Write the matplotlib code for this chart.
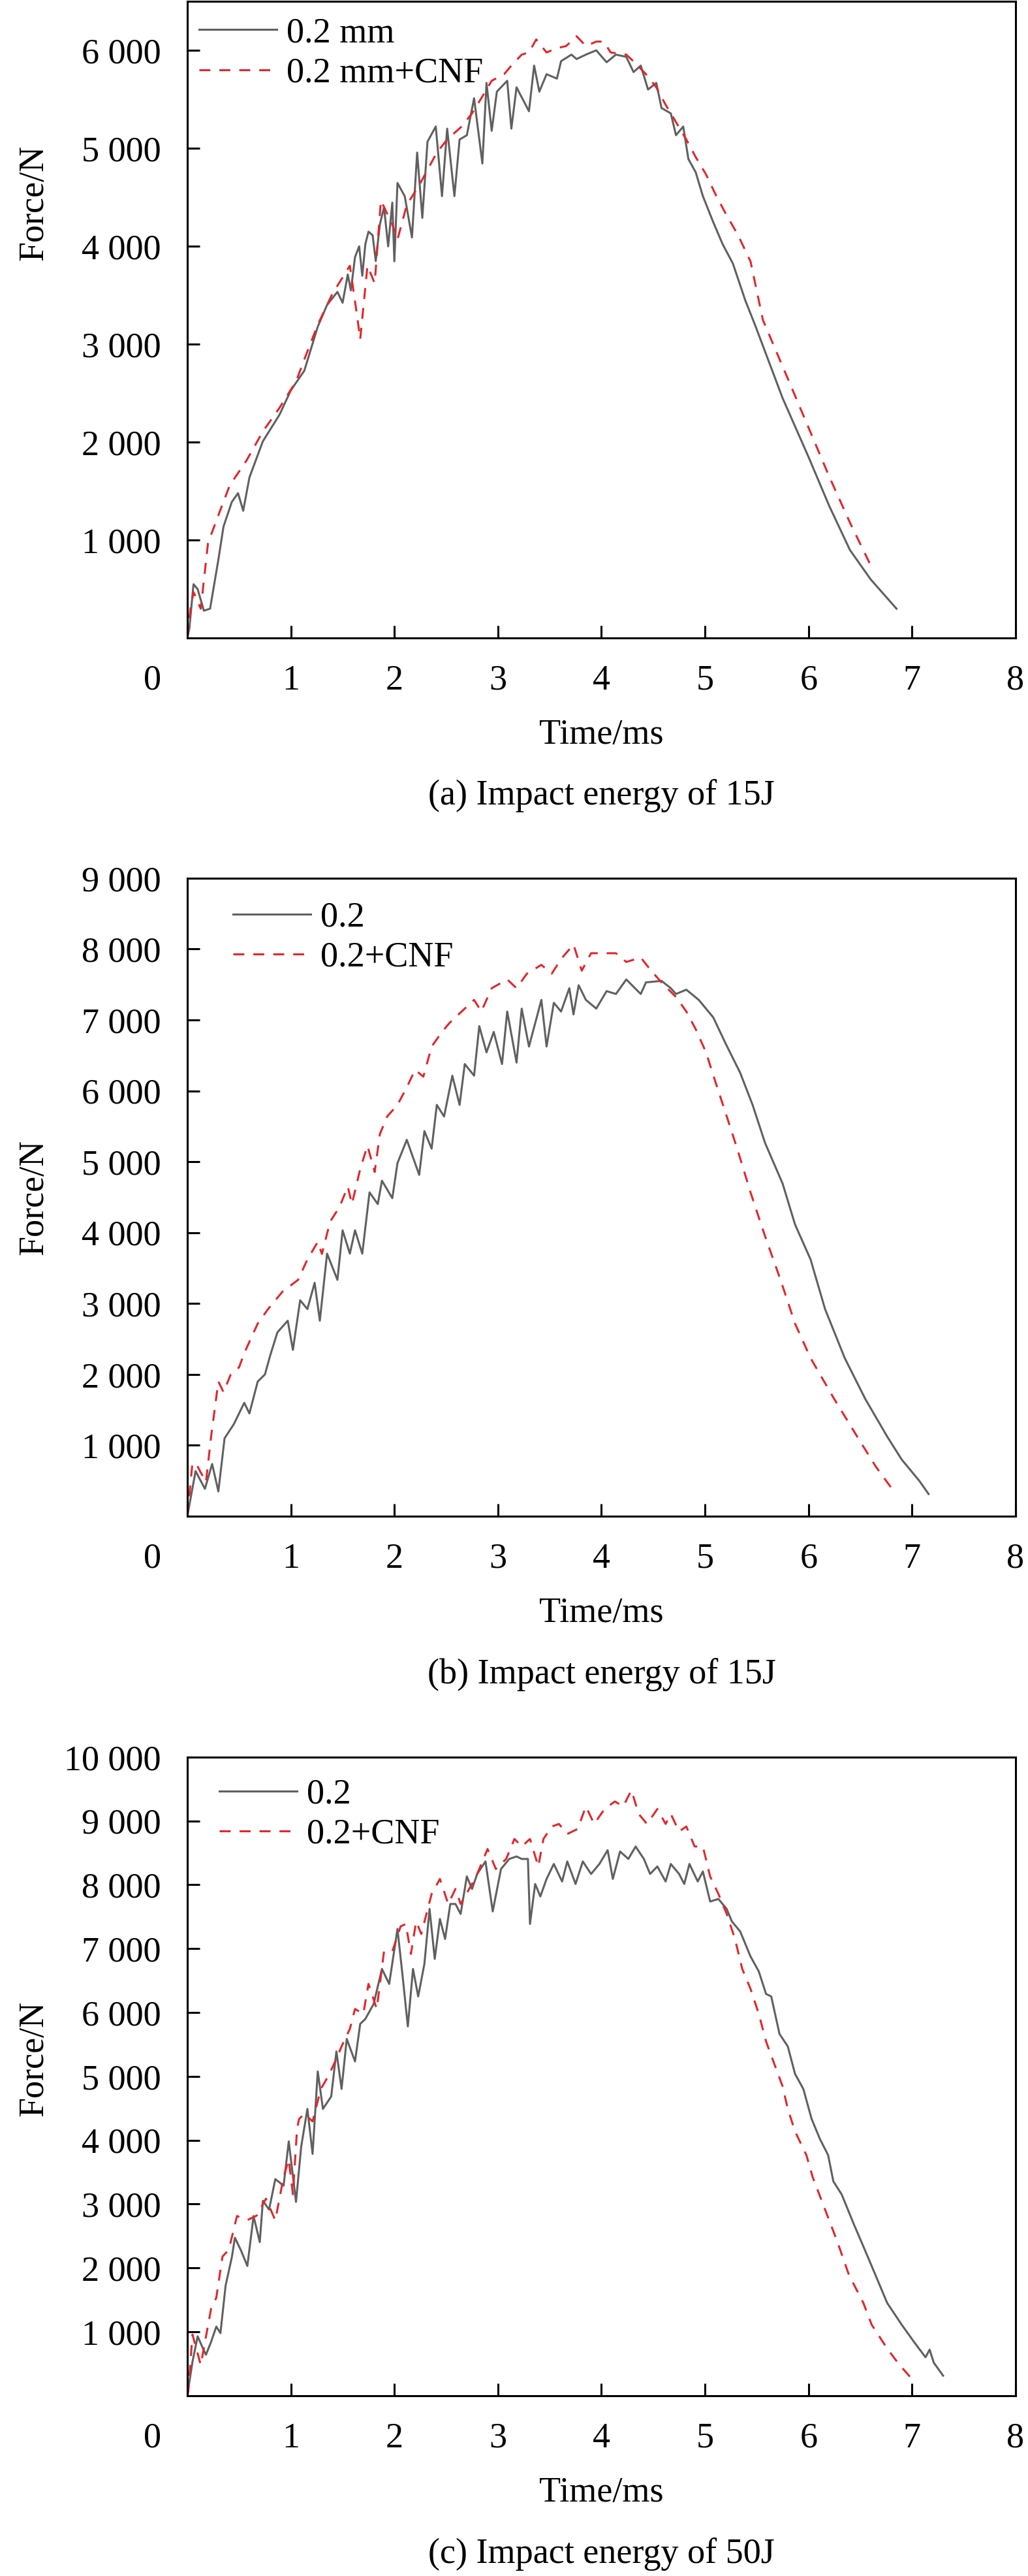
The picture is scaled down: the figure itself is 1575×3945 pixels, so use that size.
import numpy as np
import matplotlib
matplotlib.use("Agg")
from matplotlib import pyplot as plt
from matplotlib.ticker import FuncFormatter, FixedLocator
from matplotlib.transforms import ScaledTranslation

plt.rcParams['font.family'] = ['Liberation Serif', 'DejaVu Serif']
plt.rcParams['font.size'] = 39

# ---- panel (a): 15 J, 0.2 mm ----
t_a_plain = [0.0, 0.02, 0.06, 0.1, 0.16, 0.22, 0.3, 0.35, 0.43, 0.49, 0.54, 0.6, 0.73, 0.89, 1.0, 1.13,
             1.26, 1.35, 1.45, 1.5, 1.55, 1.58, 1.62, 1.66, 1.69, 1.72, 1.75, 1.79, 1.82, 1.86, 1.9, 1.94,
             1.98, 2.0, 2.03, 2.1, 2.17, 2.22, 2.27,
             2.32, 2.4, 2.46, 2.51, 2.58, 2.63, 2.7, 2.77, 2.85, 2.89, 2.94, 2.99, 3.09, 3.13, 3.18, 3.3,
             3.35, 3.4, 3.47, 3.57, 3.61, 3.71, 3.76, 3.85, 3.95, 4.05, 4.14, 4.24, 4.31, 4.38, 4.45,
             4.53, 4.58, 4.67, 4.72, 4.79, 4.84, 4.91, 4.98, 5.08, 5.17, 5.27, 5.39, 5.49, 5.75, 6.0,
             6.2, 6.4, 6.6, 6.75, 6.85]
f_a_plain = [0, 100, 550, 500, 280, 300, 800, 1140, 1390, 1480, 1300, 1640, 2010, 2280, 2530, 2730,
             3180, 3402, 3535, 3424, 3713, 3550, 3891, 4000, 3700, 4024, 4150, 4113, 3850, 4224, 4400, 4000,
             4447, 3847, 4647, 4513, 4091, 4958, 4291,
             5069, 5224, 4513, 5202, 4513, 5091, 5135, 5513, 4846, 5669, 5180, 5580, 5691, 5202, 5624, 5380,
             5846, 5580, 5758, 5713, 5891, 5958, 5913, 5958, 6002, 5880, 5958, 5935, 5780, 5846, 5602,
             5669, 5413, 5358, 5135, 5224, 4891, 4758, 4513, 4247, 4024, 3824, 3447, 3180, 2450, 1850,
             1350, 900, 600, 420, 300]
t_a_cnf = [0.0, 0.03, 0.06, 0.13, 0.2, 0.32, 0.41, 0.57, 0.73, 0.89, 1.05, 1.15, 1.26, 1.4, 1.57, 1.64,
           1.67, 1.74, 1.81, 1.87, 1.98, 2.03, 2.12, 2.24, 2.41, 2.51, 2.65, 2.75, 2.84, 2.94, 3.06, 3.13,
           3.23, 3.3, 3.37, 3.47, 3.57, 3.66, 3.76, 3.85, 3.95, 4.02, 4.09, 4.24, 4.33, 4.43, 4.53, 4.62,
           4.72, 4.82, 4.91, 5.01, 5.1, 5.2, 5.32, 5.44, 5.56, 5.8, 6.0, 6.2, 6.4, 6.62]
f_a_cnf = [0, 300, 470, 300, 970, 1310, 1560, 1810, 2110, 2350, 2620, 2900, 3200, 3513, 3802, 3291,
           3050, 3802, 3624, 4469, 4224, 4069, 4424, 4624, 4958, 5091, 5224, 5358, 5513, 5691, 5758, 5846,
           5958, 5980, 6113, 5980, 6024, 6046, 6146, 6046, 6091, 6091, 5980, 5958, 5869, 5758, 5624, 5446,
           5269, 5091, 4913, 4735, 4535, 4335, 4113, 3846, 3247, 2650, 2150, 1650, 1180, 700]

# ---- panel (b): 15 J ----
t_b_plain = [0.0, 0.08, 0.17, 0.24, 0.3, 0.36, 0.45, 0.55, 0.6, 0.68, 0.75, 0.8, 0.87, 0.97, 1.02, 1.09,
             1.16, 1.23, 1.28, 1.35, 1.45, 1.5, 1.57, 1.62, 1.69, 1.76, 1.84, 1.88, 1.98, 2.03, 2.12, 2.24,
             2.29, 2.36, 2.41, 2.48, 2.56, 2.63, 2.68, 2.77, 2.82, 2.89, 2.96, 3.04, 3.09, 3.18, 3.23, 3.3,
             3.42, 3.47, 3.54, 3.61, 3.69, 3.73, 3.78, 3.85, 3.95, 4.05, 4.14, 4.24, 4.38, 4.43, 4.58,
             4.67, 4.72, 4.82, 4.94, 5.08, 5.2, 5.34, 5.46, 5.58, 5.75, 5.87, 6.02, 6.16, 6.35, 6.55,
             6.76, 6.9, 7.07, 7.16]
f_b_plain = [0, 636, 387, 737, 350, 1100, 1300, 1600, 1450, 1900, 2000, 2264, 2593, 2758, 2346, 3046,
             2922, 3293, 2758, 3704, 3334, 4033, 3704, 4033, 3704, 4568, 4403, 4733, 4486, 4980, 5309, 4815,
             5432, 5185, 5802, 5638, 6214, 5802, 6378, 6214, 6913, 6543, 6831, 6378, 7119, 6399, 7160, 6625,
             7283, 6625, 7242, 7119, 7448, 7078, 7489, 7283, 7160, 7407, 7366, 7571, 7366, 7530, 7551,
             7448, 7366, 7427, 7283, 7036, 6666, 6255, 5802, 5267, 4692, 4115, 3622, 2922, 2231, 1650,
             1124, 800, 500, 313]
t_b_cnf = [0.0, 0.05, 0.1, 0.18, 0.23, 0.3, 0.35, 0.42, 0.5, 0.55, 0.59, 0.68, 0.78, 0.92, 1.07, 1.16,
           1.26, 1.3, 1.38, 1.47, 1.55, 1.59, 1.67, 1.74, 1.81, 1.86, 1.93, 2.03, 2.12, 2.2, 2.28, 2.36,
           2.46, 2.53, 2.65, 2.77, 2.84, 2.94, 3.09, 3.18, 3.28, 3.42, 3.52, 3.61, 3.73, 3.81, 3.9, 4.02,
           4.14, 4.24, 4.38, 4.48, 4.58, 4.72, 4.82, 4.91, 5.01, 5.1, 5.22, 5.32, 5.44, 5.58, 5.73, 5.87,
           6.02, 6.25, 6.47, 6.65, 6.82]
f_b_cnf = [0, 755, 700, 480, 1124, 1900, 1750, 2000, 2100, 2300, 2429, 2717, 2922, 3169, 3334, 3622,
           3869, 3700, 4157, 4362, 4650, 4403, 4897, 5226, 4856, 5391, 5638, 5802, 6049, 6296, 6200, 6625,
           6831, 6954, 7119, 7283, 7119, 7448, 7571, 7448, 7653, 7777, 7653, 7859, 8065, 7695, 7941, 7941,
           7941, 7818, 7880, 7695, 7530, 7324, 7119, 6872, 6543, 6131, 5597, 5144, 4568, 3951, 3334, 2717,
           2231, 1650, 1124, 700, 360]

# ---- panel (c): 50 J ----
t_c_plain = [0.0, 0.05, 0.1, 0.16, 0.18, 0.23, 0.28, 0.32, 0.37, 0.43, 0.46, 0.52, 0.58, 0.64, 0.7, 0.73,
             0.79, 0.85, 0.93, 0.98, 1.05, 1.1, 1.16, 1.21, 1.26, 1.31, 1.39, 1.44, 1.49, 1.54, 1.62, 1.67,
             1.72, 1.8, 1.88, 1.95, 2.03, 2.08, 2.13, 2.18, 2.23, 2.29, 2.34, 2.39, 2.44, 2.49, 2.54, 2.59,
             2.64, 2.7, 2.75, 2.8, 2.88, 2.95, 3.03, 3.11, 3.18, 3.23, 3.29, 3.31, 3.36, 3.41, 3.47, 3.54,
             3.62, 3.67, 3.75, 3.82, 3.9, 3.98, 4.06, 4.11, 4.18, 4.26, 4.33, 4.41, 4.47, 4.54, 4.62, 4.67,
             4.75, 4.8, 4.85, 4.93, 4.98, 5.05, 5.13, 5.21, 5.26, 5.34, 5.44, 5.52, 5.59, 5.64, 5.72, 5.8,
             5.87, 5.95, 6.03, 6.11, 6.19, 6.24, 6.32, 6.44, 6.53, 6.61, 6.76, 6.9, 7.02, 7.13, 7.17,
             7.21, 7.3]
f_c_plain = [0, 531, 929, 708, 640, 844, 1082, 980, 1724, 2167, 2473, 2269, 2031, 2813, 2405, 3051,
             2915, 3391, 3289, 3982, 3034, 3900, 4491, 3786, 5078, 4491, 4686, 5391, 4804, 5587, 5234, 5822,
             5900, 6135, 6683, 6448, 7309, 6565, 5782, 6683, 6252, 6761, 7622, 6839, 7465, 7152, 7700, 7700,
             7544, 8131, 7935, 8170, 8366, 7583, 8248, 8405, 8444, 8405, 8405, 7387, 8013, 7818, 8092, 8326,
             8052, 8366, 8013, 8366, 8170, 8326, 8542, 8092, 8522, 8405, 8600, 8405, 8170, 8287, 8052, 8326,
             8170, 8013, 8326, 8052, 8209, 7739, 7778, 7622, 7426, 7270, 6878, 6643, 6291, 6252, 5665, 5469,
             5039, 4804, 4334, 4021, 3765, 3357, 3153, 2677, 2337, 2031, 1452, 1112, 840, 602, 721,
             517, 313]
t_c_cnf = [0.0, 0.01, 0.05, 0.13, 0.23, 0.28, 0.34, 0.4, 0.48, 0.58, 0.67, 0.76, 0.85, 0.93, 0.98, 1.02,
           1.06, 1.08, 1.13, 1.21, 1.29, 1.36, 1.44, 1.49, 1.57, 1.62, 1.7, 1.75, 1.83, 1.9, 1.98, 2.06,
           2.11, 2.16, 2.21, 2.26, 2.36, 2.44, 2.52, 2.59, 2.64, 2.75, 2.8, 2.9, 2.98, 3.08, 3.16, 3.23,
           3.31, 3.39, 3.44, 3.52, 3.59, 3.67, 3.77, 3.85, 3.93, 4.03, 4.13, 4.21, 4.29, 4.36, 4.44, 4.54,
           4.62, 4.67, 4.75, 4.82, 4.9, 4.98, 5.05, 5.13, 5.21, 5.29, 5.36, 5.44, 5.52, 5.59, 5.67, 5.75,
           5.8, 5.87, 5.98, 6.04, 6.16, 6.28, 6.39, 6.53, 6.61, 6.76, 6.87, 6.98]
f_c_cnf = [0, 70, 956, 480, 1364, 1534, 2180, 2282, 2813, 2750, 2820, 3085, 2745, 3425, 3700, 3153,
           4178, 4334, 4412, 4295, 4804, 5000, 5274, 5469, 5743, 6056, 5978, 6448, 6056, 6957, 6957, 7348,
           7387, 6917, 7426, 7231, 7857, 8092, 7700, 7935, 7700, 8013, 8170, 8561, 8248, 8405, 8718, 8600,
           8718, 8287, 8718, 8913, 8953, 8796, 8874, 9227, 8953, 9187, 9305, 9227, 9481, 9109, 8953, 9187,
           8953, 9109, 8835, 8913, 8600, 8600, 8131, 7857, 7544, 7152, 6683, 6370, 5978, 5547, 5195, 4843,
           4491, 4139, 3765, 3425, 2915, 2405, 1894, 1452, 1112, 738, 500, 296]

panels = [
    (t_a_plain, f_a_plain, t_a_cnf, f_a_cnf, '0.2 mm', '0.2 mm+CNF', 6500,
     '(a) Impact energy of 15J', (0.0142, 0.976), 0.684),
    (t_b_plain, f_b_plain, t_b_cnf, f_b_cnf, '0.2', '0.2+CNF', 9000,
     '(b) Impact energy of 15J', (0.055, 0.964), 0.5),
    (t_c_plain, f_c_plain, t_c_cnf, f_c_cnf, '0.2', '0.2+CNF', 10000,
     '(c) Impact energy of 50J', (0.0386, 0.967), 0.528),
]

# axes rectangles in figure fraction (left, bottom, width, height)
rects = [(0.1822, 0.7523, 0.8057, 0.2471),
         (0.1822, 0.4114, 0.8057, 0.2477),
         (0.1822, 0.0700, 0.8057, 0.2479)]

gray = '#606060'
red = '#e3262b'

fig = plt.figure(figsize=(15.75, 39.45), dpi=100)

for (tp, fp, tc, fc, lab1, lab2, ymax, cap, legpos, ylab_y), rect in zip(panels, rects):
    ax = fig.add_axes(rect)
    ax.plot(tp, fp, color=gray, lw=2.2, label=lab1)
    ax.plot(tc, fc, color=red, lw=2.2, linestyle=(0, (5.5, 4.5)), label=lab2)

    ax.set_xlim(0, 8)
    ax.set_ylim(0, ymax)
    ax.xaxis.set_major_locator(FixedLocator(range(0, 9)))
    ax.yaxis.set_major_locator(FixedLocator(range(1000, ymax + 1, 1000)))
    ax.yaxis.set_major_formatter(FuncFormatter(lambda v, p: f"{int(v):,}".replace(",", " ")))

    ax.tick_params(direction='in', length=13.5, width=2.2, pad=29, top=False, right=False)
    for s in ax.spines.values():
        s.set_linewidth(2.2)

    # the "0" on the time axis sits left of the origin
    fig.canvas.draw()
    lbl0 = ax.get_xticklabels()[0]
    lbl0.set_transform(lbl0.get_transform() + ScaledTranslation(-0.53, 0, fig.dpi_scale_trans))

    ax.set_xlabel('Time/ms')
    ax.xaxis.set_label_coords(0.5, -0.152)
    ax.xaxis.label.set_va('center')
    ax.set_ylabel('Force/N')
    ax.yaxis.set_label_coords(-0.165, ylab_y)

    ax.text(0.5, -0.248, cap, transform=ax.transAxes, ha='center', va='center')

    ax.legend(loc='upper left', bbox_to_anchor=legpos, frameon=False, borderpad=0,
              borderaxespad=0, handlelength=2.2, handletextpad=0.28, labelspacing=0.2)

fig.savefig('out.png', dpi=100)
